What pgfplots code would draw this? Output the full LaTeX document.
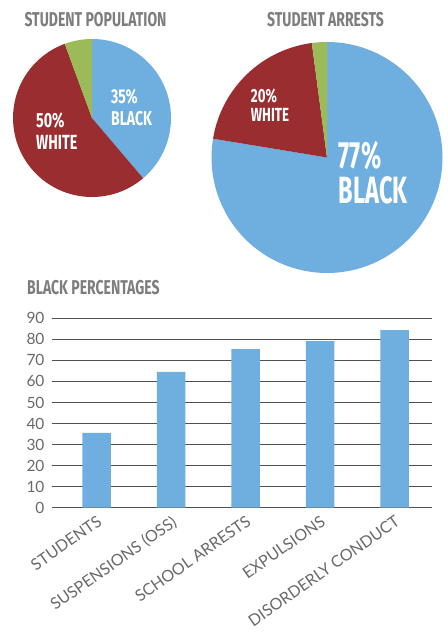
\documentclass[border=0pt]{standalone}
\usepackage{fontspec}
\setmainfont{Lato}
\newfontfamily\condfont{Fira Sans}[FakeStretch=0.7]
\newfontfamily\condnarrow{Fira Sans}[FakeStretch=0.62]
\usepackage{pgfplots}
\pgfplotsset{compat=1.18}

\definecolor{cblue}{RGB}{111,175,224}
\definecolor{cred}{RGB}{153,45,48}
\definecolor{cgreen}{RGB}{155,187,89}
\definecolor{ctitle}{RGB}{125,125,125}
\definecolor{ctick}{RGB}{105,105,105}
\definecolor{cgrid}{RGB}{80,80,80}

% pie shares in percent, clockwise from 12 o'clock: black, white, other
\def\popdata{38.8/cblue,55.6/cred,5.6/cgreen}
\def\arrdata{77.6/cblue,20.3/cred,2.1/cgreen}

% draw the slices of a pie inside an axis running from -1 to 1
\newcommand\pieslices[2]{%
  \gdef\pstart{90}%
  \foreach \v/\c in #1 {%
    \pgfmathsetmacro\pend{\pstart-3.6*\v}%
    \edef\doslice{\noexpand\fill[\c] (axis cs:0,0) -- (axis cs:{cos(\pstart)},{sin(\pstart)})
      arc[start angle=\pstart, end angle=\pend, radius=#2] -- cycle;}%
    \doslice
    \global\let\pstart\pend
  }%
}

\newcommand\fs[2]{\fontsize{#1bp}{#2bp}\selectfont}

\begin{document}
\begin{tikzpicture}
\useasboundingbox (0,0) rectangle (448bp,633bp);

% titles
\node[text=ctitle, font=\condfont\bfseries\fs{20}{20}] at (95.5bp,613bp) {STUDENT POPULATION};
\node[text=ctitle, font=\condfont\bfseries\fs{20}{20}] at (325.5bp,613bp) {STUDENT ARRESTS};
\node[text=ctitle, font=\condfont\bfseries\fs{20}{20}, anchor=west, inner sep=0pt] at (27bp,345bp) {BLACK PERCENTAGES};

% student population pie
\begin{axis}[
  at={(92bp,515bp)}, anchor=center,
  scale only axis, width=158bp, height=158bp,
  xmin=-1, xmax=1, ymin=-1, ymax=1,
  hide axis,
]
\pieslices{\popdata}{79bp}
\node[anchor=west, align=left, text=white, font=\condfont\bfseries\fs{20}{22}, inner sep=0pt]
  at (axis cs:0.24,0.13) {35\%\\BLACK};
\node[anchor=west, align=left, text=white, font=\condfont\bfseries\fs{20.5}{22}, inner sep=0pt]
  at (axis cs:-0.71,-0.16) {50\%\\WHITE};
\end{axis}

% student arrests pie
\begin{axis}[
  at={(327bp,475.5bp)}, anchor=center,
  scale only axis, width=231bp, height=231bp,
  xmin=-1, xmax=1, ymin=-1, ymax=1,
  hide axis,
]
\pieslices{\arrdata}{115.5bp}
\node[anchor=west, align=left, text=white, font=\condfont\bfseries\fs{19}{19}, inner sep=0pt]
  at (axis cs:-0.66,0.45) {20\%\\WHITE};
\node[anchor=west, align=left, text=white, font=\condnarrow\bfseries\fs{38}{35}, inner sep=0pt]
  at (axis cs:0.10,-0.13) {77\%\\BLACK};
\end{axis}

% black percentages bars
\begin{axis}[
  at={(52bp,125.3bp)}, anchor=south west,
  scale only axis, width=380bp, height=189.4bp,
  xmin=-0.6, xmax=4.5, ymin=0, ymax=90,
  ytick={0,10,...,90},
  xtick={0,...,4},
  xticklabels={STUDENTS, SUSPENSIONS (OSS), SCHOOL ARRESTS, EXPULSIONS, DISORDERLY CONDUCT},
  axis lines*=left,
  y axis line style={draw=none},
  x axis line style={cgrid, line width=1.3bp},
  major tick length=0pt,
  ymajorgrids,
  grid style={cgrid, line width=0.6bp},
  /pgf/number format/assume math mode=true,
  yticklabel style={text=ctick, font=\fs{15.5}{15.5}, xshift=-4bp},
  xticklabel style={text=ctick, font=\fs{16}{16}, rotate=35, anchor=north east, yshift=-2bp, xshift=-1bp},
]
\addplot[ybar, fill=cblue, draw=none, bar width=28.5bp]
  coordinates {(0,35.5) (1,64.5) (2,75.4) (3,79.2) (4,84.4)};
\end{axis}
\end{tikzpicture}
\end{document}
